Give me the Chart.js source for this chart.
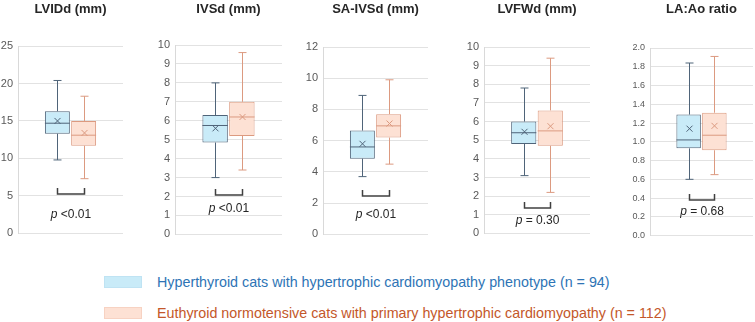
<!DOCTYPE html>
<html>
<head>
<meta charset="utf-8">
<script src="https://cdn.jsdelivr.net/npm/chart.js@4"></script>
<style>
    body { margin: 0; background: #fff; width: 755px; height: 322px; position: relative; overflow: hidden; font-family: "Liberation Sans", Arial, sans-serif; }
    canvas { position: absolute; top: 0; }
    .title { position: absolute; top: 1px; font-weight: bold; font-size: 13px; line-height: 16px; color: #262626; text-align: center; white-space: nowrap; }
    .swatch { position: absolute; left: 104px; width: 38px; height: 12px; }
    .legend-text { position: absolute; left: 157px; font-size: 14.3px; line-height: 16px; white-space: nowrap; }
</style>
</head>
<body>
<script>
// chart data
const panelTitles = ["LVIDd (mm)", "IVSd (mm)", "SA-IVSd (mm)", "LVFWd (mm)", "LA:Ao ratio"];
const yMax = [25, 10, 12, 10, 2];
const yStep = [5, 1, 2, 1, 0.2];

// Hyperthyroid cats (blue)
const hyperMin = [9.8, 3.0, 3.7, 3.1, 0.60];
const hyperQ1 = [13.3, 4.85, 4.85, 4.8, 0.93];
const hyperMedian = [14.7, 5.75, 5.6, 5.4, 1.02];
const hyperQ3 = [16.3, 6.3, 6.65, 6.0, 1.29];
const hyperMax = [20.4, 8.0, 8.9, 7.8, 1.84];
const hyperMean = [15.0, 5.6, 5.8, 5.45, 1.14];

// Euthyroid cats (orange)
const euthMin = [7.3, 3.4, 4.5, 2.2, 0.65];
const euthQ1 = [11.7, 5.2, 6.2, 4.7, 0.91];
const euthMedian = [13.1, 6.2, 6.95, 5.5, 1.07];
const euthQ3 = [15.0, 7.0, 7.7, 6.6, 1.31];
const euthMax = [18.3, 9.6, 9.9, 9.4, 1.91];
const euthMean = [13.4, 6.2, 7.1, 5.75, 1.17];

const pValues = ["<0.01", "<0.01", "<0.01", "= 0.30", "= 0.68"];
const legendLabels = [
    "Hyperthyroid cats with hypertrophic cardiomyopathy phenotype (n = 94)",
    "Euthyroid normotensive cats with primary hypertrophic cardiomyopathy (n = 112)",
];

// layout (pixels / axis units for the annotations)
const plotLeft = [18, 175, 323, 484, 650];
const plotRight = [123, 282, 428, 590, 753];
const plotTop = [46, 45, 47, 47, 48];
const plotBottom = [237, 238, 238, 237, 238];
const bracketAt = [5.2, 2.1, 2.45, 1.37, 0.38];
const pTextAt = [2.5, 1.35, 1.26, 0.68, 0.26];
const axisWidth = 30;

const blueFill = "#c9ebf8";
const blueLine = "#4f6479";
const orangeFill = "#fde1d4";
const orangeLine = "#dc9a80";

const boxPlugin = {
    id: "boxWhiskers",
    afterDatasetsDraw(chart) {
        const i = chart.options.plugins.boxWhiskers.panel;
        const y = chart.scales.y;
        const ctx = chart.ctx;
        const groups = [
            { min: hyperMin[i], med: hyperMedian[i], mean: hyperMean[i], max: hyperMax[i], q1: hyperQ1[i], q3: hyperQ3[i], color: blueLine },
            { min: euthMin[i], med: euthMedian[i], mean: euthMean[i], max: euthMax[i], q1: euthQ1[i], q3: euthQ3[i], color: orangeLine },
        ];
        const centers = [];
        ctx.save();
        groups.forEach(function (g, d) {
            const bar = chart.getDatasetMeta(d).data[0];
            const x = Math.round(bar.x) + 0.5;
            const w = bar.width;
            centers.push(x);
            ctx.strokeStyle = g.color;
            ctx.lineWidth = 1;
            ctx.beginPath();
            ctx.moveTo(x, y.getPixelForValue(g.max));
            ctx.lineTo(x, y.getPixelForValue(g.q3));
            ctx.moveTo(x, y.getPixelForValue(g.q1));
            ctx.lineTo(x, y.getPixelForValue(g.min));
            ctx.moveTo(x - 4, y.getPixelForValue(g.max));
            ctx.lineTo(x + 4, y.getPixelForValue(g.max));
            ctx.moveTo(x - 4, y.getPixelForValue(g.min));
            ctx.lineTo(x + 4, y.getPixelForValue(g.min));
            ctx.moveTo(bar.x - w / 2, y.getPixelForValue(g.med));
            ctx.lineTo(bar.x + w / 2, y.getPixelForValue(g.med));
            const my = y.getPixelForValue(g.mean);
            ctx.moveTo(x - 3, my - 3);
            ctx.lineTo(x + 3, my + 3);
            ctx.moveTo(x + 3, my - 3);
            ctx.lineTo(x - 3, my + 3);
            ctx.stroke();
        });

        // significance bracket
        const by = Math.round(y.getPixelForValue(bracketAt[i]));
        ctx.strokeStyle = "#404040";
        ctx.lineWidth = 1.5;
        ctx.beginPath();
        ctx.moveTo(centers[0], by - 6);
        ctx.lineTo(centers[0], by);
        ctx.lineTo(centers[1], by);
        ctx.lineTo(centers[1], by - 6);
        ctx.stroke();

        // p value text
        const font = '"Liberation Sans", Arial, sans-serif';
        const rest = " " + pValues[i];
        ctx.font = "italic 12px " + font;
        const wp = ctx.measureText("p").width;
        ctx.font = "12px " + font;
        const wr = ctx.measureText(rest).width;
        const cx = (centers[0] + centers[1]) / 2;
        const ty = y.getPixelForValue(pTextAt[i]);
        let tx = cx - (wp + wr) / 2;
        ctx.fillStyle = "#262626";
        ctx.textBaseline = "middle";
        ctx.textAlign = "left";
        ctx.font = "italic 12px " + font;
        ctx.fillText("p", tx, ty);
        ctx.font = "12px " + font;
        ctx.fillText(rest, tx + wp, ty);
        ctx.restore();
    },
};

function makePanel(i) {
    const canvas = document.createElement("canvas");
    const w = plotRight[i] - plotLeft[i] + axisWidth;
    const h = plotBottom[i] + 8;
    canvas.width = w;
    canvas.height = h;
    canvas.style.left = (plotLeft[i] - axisWidth) + "px";
    canvas.style.width = w + "px";
    canvas.style.height = h + "px";
    document.body.appendChild(canvas);

    const title = document.createElement("div");
    title.className = "title";
    title.style.left = plotLeft[i] + "px";
    title.style.width = (plotRight[i] - plotLeft[i]) + "px";
    title.textContent = panelTitles[i];
    document.body.appendChild(title);

    new Chart(canvas, {
        type: "bar",
        data: {
            labels: [panelTitles[i]],
            datasets: [
                {
                    label: legendLabels[0],
                    data: [[hyperQ1[i], hyperQ3[i]]],
                    backgroundColor: blueFill,
                    borderColor: blueLine,
                    borderWidth: 1,
                    borderSkipped: false,
                },
                {
                    label: legendLabels[1],
                    data: [[euthQ1[i], euthQ3[i]]],
                    backgroundColor: orangeFill,
                    borderColor: orangeLine,
                    borderWidth: 1,
                    borderSkipped: false,
                },
            ],
        },
        options: {
            responsive: false,
            animation: false,
            events: [],
            categoryPercentage: 0.5,
            barPercentage: 0.95,
            layout: { padding: { top: plotTop[i], bottom: 8, left: 0, right: 0 } },
            scales: {
                x: { display: false },
                y: {
                    min: 0,
                    max: yMax[i],
                    afterFit: function (scale) { scale.width = axisWidth; },
                    grid: { color: "#e2e2e2", drawTicks: false },
                    border: { display: true, color: "#d9d9d9" },
                    ticks: {
                        stepSize: yStep[i],
                        padding: 5,
                        color: "#595959",
                        font: { size: i === 4 ? 9 : 11, family: '"Liberation Sans", Arial, sans-serif' },
                        callback: function (v) { return i === 4 ? v.toFixed(1) : v; },
                    },
                },
            },
            plugins: {
                legend: { display: false },
                tooltip: { enabled: false },
                boxWhiskers: { panel: i },
            },
        },
        plugins: [boxPlugin],
    });
}

for (let i = 0; i < panelTitles.length; i++) {
    makePanel(i);
}

// legend
const legendFill = [blueFill, orangeFill];
const legendBorder = ["#bfe3f3", "#f7d2c2"];
const legendColor = ["#2e74b5", "#c4572a"];
const legendTop = [276, 307];
legendLabels.forEach(function (label, k) {
    const sw = document.createElement("div");
    sw.className = "swatch";
    sw.style.top = legendTop[k] + "px";
    sw.style.background = legendFill[k];
    sw.style.boxSizing = "border-box";
    sw.style.border = "1px solid " + legendBorder[k];
    document.body.appendChild(sw);
    const t = document.createElement("div");
    t.className = "legend-text";
    t.style.top = (legendTop[k] - 2) + "px";
    t.style.color = legendColor[k];
    t.textContent = label;
    document.body.appendChild(t);
});
</script>
</body>
</html>
